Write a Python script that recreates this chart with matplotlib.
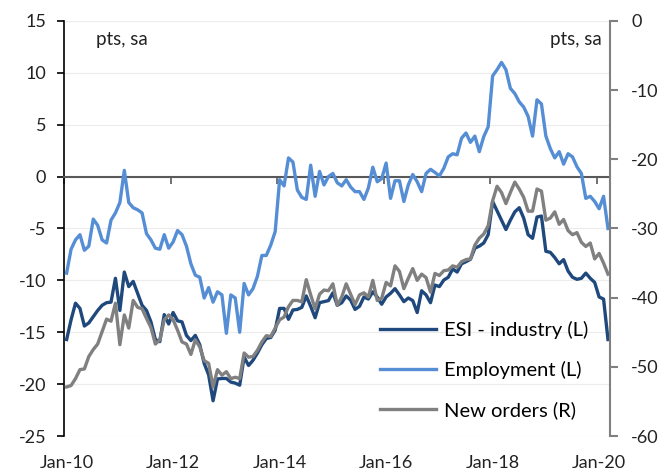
import matplotlib
matplotlib.use('Agg')
import matplotlib.pyplot as plt
import numpy as np

plt.rcParams['font.family'] = ['Lato', 'DejaVu Sans']
plt.rcParams['axes.unicode_minus'] = False

# monthly, Jan-10 .. Mar-20
months = np.arange(123)
tick_labels = ['Jan-10', 'Jan-12', 'Jan-14', 'Jan-16', 'Jan-18', 'Jan-20']

# ESI - industry (left axis)
esi = [-15.7, -13.8, -12.2, -12.7, -14.4, -14.1, -13.5, -12.9, -12.4, -12.15,
       -12.1, -9.8, -12.9, -9.2, -10.6, -10.1, -11.25, -12.4, -12.9, -14.0,
       -15.7, -15.9, -13.3, -14.2, -13.1, -13.9, -14.0, -15.3, -15.8, -15.3,
       -16.2, -18.0, -19.1, -21.6, -19.5, -19.45, -19.45, -19.8, -19.9, -20.1,
       -17.4, -18.2, -17.7, -17.0, -16.2, -15.6, -15.5, -14.8, -12.7, -12.7,
       -13.75, -12.85, -12.8, -12.6, -11.5, -12.5, -13.6, -12.15, -12.05, -11.95,
       -11.2, -12.4, -12.15, -11.5, -11.9, -12.8, -12.5, -11.6, -11.8, -11.1,
       -11.6, -12.3, -11.6, -11.25, -10.8, -11.4, -12.05, -11.7, -11.95, -13.1,
       -11.0, -11.4, -12.15, -10.45, -10.6, -9.97, -9.7, -8.9, -9.2, -8.4,
       -8.2, -7.97, -6.9, -6.7, -6.4, -5.6, -2.4, -3.3, -4.2, -5.1,
       -4.2, -3.4, -3.0, -4.0, -5.6, -5.95, -3.9, -3.8, -7.2, -7.3,
       -7.8, -8.4, -8.0, -9.1, -9.7, -9.9, -9.8, -9.3, -9.8, -10.2,
       -11.6, -11.8, -15.7]

# Employment (left axis)
employment = [-9.3, -7.0, -6.1, -5.6, -7.1, -6.7, -4.1, -4.7, -6.1, -6.4,
              -4.2, -3.5, -2.5, 0.6, -2.5, -3.0, -3.2, -3.5, -5.5, -6.1,
              -6.9, -7.0, -5.6, -6.9, -6.3, -5.2, -5.6, -6.7, -8.4, -9.5,
              -9.7, -11.7, -10.7, -12.1, -11.1, -11.4, -15.1, -11.4, -11.7, -15.0,
              -10.3, -11.4, -10.8, -9.6, -7.6, -7.6, -6.6, -5.3, -0.3, -0.9,
              1.8, 1.4, -1.3, -2.0, -2.2, 1.1, -1.9, 0.5, -0.8, 0.0,
              0.3, -0.6, -0.9, -0.3, -1.0, -1.45, -1.45, -2.2, -1.1, 0.9,
              -0.5, -0.2, 1.3, -2.1, -0.4, -0.4, -2.4, -0.8, 0.2, -0.5,
              -1.45, 0.3, 0.7, 0.4, 0.06, 0.8, 1.9, 2.2, 2.1, 3.7,
              4.2, 3.3, 3.9, 2.4, 3.85, 4.8, 9.7, 10.3, 11.0, 10.3,
              8.5, 8.0, 7.2, 6.7, 5.8, 3.9, 7.4, 7.0, 3.9, 2.7,
              1.8, 2.4, 1.2, 2.2, 1.9, 0.95, 0.3, -2.1, -1.9, -2.4,
              -3.1, -1.9, -5.0]

# New orders (right axis)
new_orders = [-52.9, -52.7, -51.7, -50.4, -50.3, -48.5, -47.5, -46.7, -44.9, -43.1,
              -43.4, -40.8, -46.8, -42.5, -44.4, -40.4, -41.4, -41.6, -43.0, -44.3,
              -46.7, -46.1, -43.2, -42.5, -43.2, -44.7, -46.4, -46.7, -48.2, -46.1,
              -47.1, -49.1, -49.5, -52.9, -50.4, -51.2, -50.7, -51.7, -51.5, -51.7,
              -48.0, -48.6, -48.5, -47.6, -46.4, -45.5, -45.6, -44.4, -43.2, -42.8,
              -41.3, -40.4, -40.4, -40.6, -37.4, -39.6, -41.6, -39.5, -38.9, -39.0,
              -38.0, -41.1, -39.9, -38.0, -39.5, -41.0, -39.6, -39.3, -39.9, -37.5,
              -40.4, -40.1, -37.8, -38.3, -35.4, -36.2, -38.7, -37.2, -35.8, -37.5,
              -36.6, -37.1, -39.2, -36.5, -36.8, -36.1, -36.0, -35.4, -35.6, -34.8,
              -34.5, -34.4, -32.4, -31.4, -30.8, -29.6, -26.0, -23.9, -24.8, -26.4,
              -24.8, -23.3, -24.3, -25.5, -27.5, -27.5, -24.3, -24.6, -28.8, -28.5,
              -27.6, -29.4, -28.7, -30.3, -30.9, -30.6, -32.0, -32.6, -32.1, -34.4,
              -33.6, -35.0, -36.6]

NAVY = '#1f497d'
LIGHT = '#558ed5'
GREY = '#808080'

fig = plt.figure(figsize=(6.64, 4.75), dpi=100)
ax = fig.add_axes([0.097, 0.082, 0.822, 0.874])
ax2 = ax.twinx()

l1, = ax.plot(months, esi, color=NAVY, lw=2.4, label='ESI - industry (L)', zorder=3)
l2, = ax.plot(months, employment, color=LIGHT, lw=2.4, label='Employment (L)', zorder=3)
l3, = ax2.plot(months, new_orders, color=GREY, lw=2.4, label='New orders (R)')

ax.set_ylim(-25, 15)
ax.set_yticks(np.arange(-25, 16, 5))
ax2.set_ylim(-60, 0)
ax2.set_yticks(np.arange(-60, 1, 10))
ax.set_xlim(-0.5, 122.5)

ax.grid(axis='y', color='#ececec', lw=0.8, zorder=0)
ax.set_axisbelow(True)

# x axis drawn on the zero line, labels at the bottom
ax.spines['bottom'].set_position(('data', 0))
ax.spines['bottom'].set_color('#595959')
ax.spines['bottom'].set_linewidth(1.5)
ax.spines['top'].set_visible(False)
ax.spines['right'].set_visible(False)
ax.spines['left'].set_linewidth(1.2)
ax.set_xticks(np.arange(0, 121, 24) - 0.5)
ax.tick_params(axis='x', direction='out', length=5, width=1.2, color='#595959',
               labelbottom=False)
ax.tick_params(axis='y', direction='out', length=5, width=1.2, pad=8,
               labelsize=13, labelcolor='#222222')

sec = ax.secondary_xaxis('bottom')
sec.set_xticks(np.arange(0, 121, 24), tick_labels)
sec.spines['bottom'].set_visible(False)
sec.tick_params(length=0, pad=14, labelsize=13, labelcolor='#222222')

for s in ['top', 'left', 'bottom']:
    ax2.spines[s].set_visible(False)
ax2.spines['right'].set_color(GREY)
ax2.spines['right'].set_linewidth(1.5)
ax2.tick_params(axis='y', direction='out', length=6, width=1.5, color=GREY, pad=9,
                labelsize=13, labelcolor='#222222')

ax.text(0.058, 0.975, 'pts, sa', transform=ax.transAxes, fontsize=13.5,
        ha='left', va='top', color='#222222')
ax.text(0.985, 0.975, 'pts, sa', transform=ax.transAxes, fontsize=13.5,
        ha='right', va='top', color='#222222')

ax2.legend(handles=[l1, l2, l3], loc='upper left', bbox_to_anchor=(0.578, 0.277),
           frameon=False, fontsize=14.5, handlelength=2.8, handletextpad=0.4,
           labelspacing=1.1, borderpad=0, borderaxespad=0)

fig.savefig('out.png', dpi=100)
